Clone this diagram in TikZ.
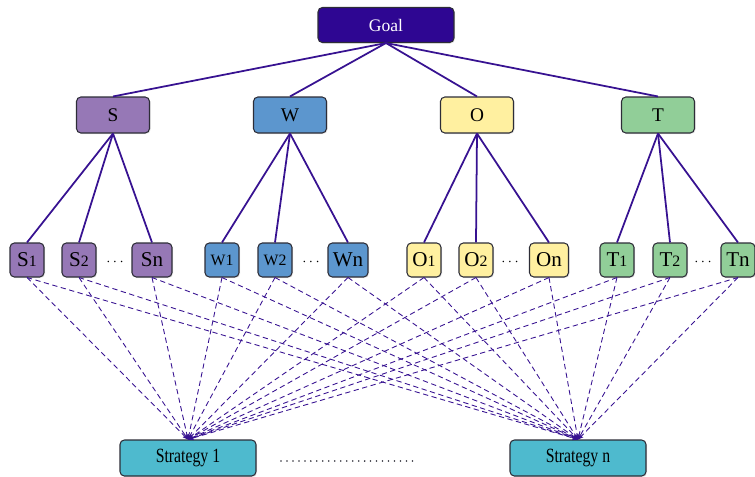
\documentclass[tikz,border=0pt]{standalone}
\usepackage{fontspec}
\setmainfont{Liberation Serif}
\newfontfamily\narrowserif[FakeStretch=0.78]{Liberation Serif}
\usetikzlibrary{arrows.meta,shadows}
\definecolor{linecol}{RGB}{55,18,145}
\definecolor{goalcol}{RGB}{46,6,146}
\definecolor{scol}{RGB}{150,120,182}
\definecolor{wcol}{RGB}{92,150,206}
\definecolor{ocol}{RGB}{255,240,160}
\definecolor{tcol}{RGB}{145,206,152}
\definecolor{stratcol}{RGB}{78,186,206}
\definecolor{edgecol}{RGB}{45,45,55}
\tikzset{
	box/.style={draw=edgecol,line width=0.6pt,rounded corners=2.5pt,align=center,inner sep=1pt,
		drop shadow={opacity=0.2,shadow xshift=0.6pt,shadow yshift=-0.6pt}},
	topbox/.style={box,minimum width=2.72cm,minimum height=0.7cm,fill=goalcol,text=white},
	midbox/.style={box,minimum width=1.46cm,minimum height=0.72cm,font=\fontsize{11}{13}\selectfont},
	leafbox/.style={box,minimum width=0.68cm,minimum height=0.68cm,font=\large},
	stratbox/.style={box,minimum width=2.72cm,minimum height=0.72cm,fill=stratcol,
		font=\narrowserif\fontsize{11.5}{13}\selectfont},
	tree/.style={linecol,line width=1pt},
	link/.style={linecol,line width=0.5pt,dash pattern=on 3pt off 2pt,-{Stealth[length=3pt,width=2.5pt]}}
}
\begin{document}
\begin{tikzpicture}[x=0.02cm,y=-0.02cm]
	\useasboundingbox (0,0) rectangle (755,477);
	% goal
	\node[topbox] (goal) at (386,25) {Goal};
	% S W O T
	\node[midbox,fill=scol] (s) at (113,115) {S};
	\node[midbox,fill=wcol] (w) at (290,115) {W};
	\node[midbox,fill=ocol] (o) at (477,115) {O};
	\node[midbox,fill=tcol] (t) at (658,115) {T};
	% factors
	\node[leafbox,fill=scol] (s1) at (27,260) {S{\small 1}};
	\node[leafbox,fill=scol] (s2) at (79,260) {S{\small 2}};
	\node[leafbox,fill=scol,minimum width=0.8cm] (sn) at (152,260) {Sn};
	\node[leafbox,fill=wcol] (w1) at (222,260) {{\small W1}};
	\node[leafbox,fill=wcol] (w2) at (275,260) {{\small W2}};
	\node[leafbox,fill=wcol,minimum width=0.8cm] (wn) at (348,260) {Wn};
	\node[leafbox,fill=ocol] (o1) at (424,260) {O{\small 1}};
	\node[leafbox,fill=ocol] (o2) at (476,260) {O{\small 2}};
	\node[leafbox,fill=ocol,minimum width=0.78cm] (on) at (549,260) {On};
	\node[leafbox,fill=tcol] (t1) at (617,260) {T{\small 1}};
	\node[leafbox,fill=tcol] (t2) at (670,260) {T{\small 2}};
	\node[leafbox,fill=tcol] (tn) at (738,260) {Tn};
	\foreach \p/\x in {s/115,w/311,o/510,t/703}
	\node (\p dots) at (\x,262) {\footnotesize $\cdots$};
	% strategies
	\node[stratbox] (strat1) at (188,458) {Strategy 1};
	\node[stratbox] (stratn) at (578,458) {Strategy n};
	\draw[line width=1pt,edgecol,line cap=round,dash pattern=on 0pt off 3.4pt] (281,461)--(413,461);
	% tree
	\foreach \p in {s,w,o,t}
	\draw[tree] (goal.south)--(\p.north);
	\foreach \p in {s,w,o,t}
	\foreach \c in {1,2,n}
	\draw[tree] (\p.south)--(\p\c.north);
	% links to strategies
	\foreach \p in {s,w,o,t}
	\foreach \c in {1,2,n}
	\foreach \g in {strat1,stratn}
	\draw[link] (\p\c.south)--(\g.north);
\end{tikzpicture}
\end{document}
